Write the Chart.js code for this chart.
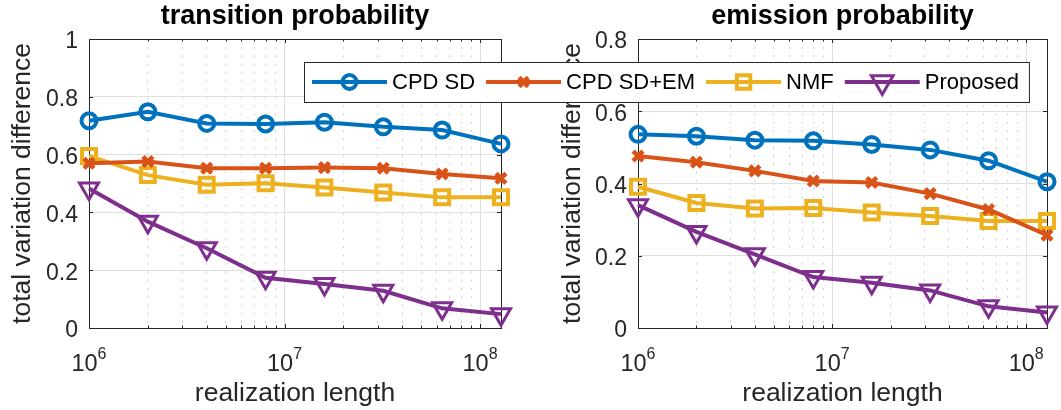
<!DOCTYPE html>
<html>
<head>
<meta charset="utf-8">
<script src="https://cdn.jsdelivr.net/npm/chart.js"></script>
<style>
  html, body { margin: 0; padding: 0; background: #fff; }
  #wrap { position: relative; width: 1061px; height: 410px; overflow: hidden; background: #fff; }
  #wrap canvas { position: absolute; left: 0; top: 0; }
</style>
</head>
<body>
<div id="wrap">
  <canvas id="c1" width="530" height="410"></canvas>
  <canvas id="c2" width="1061" height="410"></canvas>
</div>
<script>
// ---------------- data ----------------
const lengths = [1e6, 2e6, 4e6, 8e6, 1.6e7, 3.2e7, 6.4e7, 1.28e8];
const seriesNames = ['CPD SD', 'CPD SD+EM', 'NMF', 'Proposed'];

// transition probability
const transCpdSD   = [0.717, 0.748, 0.708, 0.706, 0.712, 0.696, 0.685, 0.637];
const transCpdEM   = [0.570, 0.576, 0.553, 0.553, 0.555, 0.553, 0.533, 0.518];
const transNMF     = [0.595, 0.529, 0.496, 0.501, 0.486, 0.469, 0.452, 0.452];
const transProp    = [0.483, 0.368, 0.276, 0.174, 0.152, 0.129, 0.068, 0.048];

// emission probability
const emisCpdSD    = [0.536, 0.531, 0.520, 0.518, 0.508, 0.493, 0.463, 0.405];
const emisCpdEM    = [0.476, 0.459, 0.435, 0.407, 0.403, 0.372, 0.328, 0.257];
const emisNMF      = [0.391, 0.346, 0.331, 0.332, 0.320, 0.310, 0.296, 0.296];
const emisProp     = [0.340, 0.266, 0.204, 0.141, 0.125, 0.104, 0.060, 0.043];

// ticks
const xMajorTicks  = [1e6, 1e7, 1e8];
const xTickBase    = '10';
const xTickExps    = ['6', '7', '8'];
const xMinorTicks  = [2e6, 3e6, 4e6, 5e6, 6e6, 7e6, 8e6, 9e6, 2e7, 3e7, 4e7, 5e7, 6e7, 7e7, 8e7, 9e7];

// ---------------- styles ----------------
const FONT = '"Liberation Sans", Arial, Helvetica, sans-serif';
const AXIS_COLOR = '#262626';
const GRID_COLOR = '#dfdfdf';
const MINOR_GRID_COLOR = '#c4c4c4';
const LINE_W = 4;
const styles = [
  { color: '#0072BD', pointStyle: 'circle',   radius: 7.5, pointBorderWidth: 4,   rotation: 0,   legendRadius: 7 },
  { color: '#D95319', pointStyle: 'crossRot', radius: 7,   pointBorderWidth: 4.5, rotation: 0,   legendRadius: 6.5 },
  { color: '#EDB120', pointStyle: 'rect',     radius: 9.9, pointBorderWidth: 4,   rotation: 0,   legendRadius: 9.5 },
  { color: '#7E2F8E', pointStyle: 'triangle', radius: 11,  pointBorderWidth: 3,   rotation: 180, legendRadius: 12.5 }
];

function makeDatasets(arrs) {
  return arrs.map((arr, i) => ({
    label: seriesNames[i],
    data: lengths.map((x, j) => ({ x: x, y: arr[j] })),
    borderColor: styles[i].color,
    backgroundColor: styles[i].color,
    borderWidth: LINE_W,
    pointStyle: styles[i].pointStyle,
    pointRadius: styles[i].radius,
    pointHoverRadius: styles[i].radius,
    pointBorderWidth: styles[i].pointBorderWidth,
    pointBorderColor: styles[i].color,
    pointBackgroundColor: 'rgba(0,0,0,0)',
    pointRotation: styles[i].rotation,
    tension: 0,
    clip: false
  }));
}

// box + inward ticks (MATLAB style) + superscript x tick labels
const boxPlugin = {
  id: 'boxPlugin',
  beforeDatasetsDraw(chart) {
    const { ctx, chartArea: a } = chart;
    const ys = chart.scales.y, xs = chart.scales.x;
    ctx.save();
    ctx.strokeStyle = AXIS_COLOR;
    ctx.lineWidth = 1;
    ctx.beginPath();
    ys.ticks.forEach(t => {
      const p = Math.round(ys.getPixelForValue(t.value)) + 0.5;
      ctx.moveTo(a.left, p); ctx.lineTo(a.left + 4, p);
      ctx.moveTo(a.right, p); ctx.lineTo(a.right - 4, p);
    });
    xMajorTicks.forEach(v => {
      const p = Math.round(xs.getPixelForValue(v)) + 0.5;
      ctx.moveTo(p, a.bottom); ctx.lineTo(p, a.bottom - 4);
      ctx.moveTo(p, a.top); ctx.lineTo(p, a.top + 4);
    });
    xMinorTicks.forEach(v => {
      const p = Math.round(xs.getPixelForValue(v)) + 0.5;
      ctx.moveTo(p, a.bottom); ctx.lineTo(p, a.bottom - 2.5);
      ctx.moveTo(p, a.top); ctx.lineTo(p, a.top + 2.5);
    });
    ctx.stroke();
    ctx.strokeRect(Math.round(a.left) + 0.5, Math.round(a.top) + 0.5,
                   Math.round(a.right - a.left), Math.round(a.bottom - a.top));
    ctx.restore();
  },
  afterDraw(chart) {
    const { ctx, chartArea: a } = chart;
    const xs = chart.scales.x;
    ctx.save();
    ctx.fillStyle = AXIS_COLOR;
    ctx.textAlign = 'left';
    ctx.textBaseline = 'alphabetic';
    xMajorTicks.forEach((v, i) => {
      const px = xs.getPixelForValue(v);
      ctx.font = '23.5px ' + FONT;
      const w1 = ctx.measureText(xTickBase).width;
      ctx.font = '16px ' + FONT;
      const w2 = ctx.measureText(xTickExps[i]).width;
      const start = px - (w1 + w2) / 2;
      ctx.font = '23.5px ' + FONT;
      ctx.fillText(xTickBase, start, a.bottom + 43);
      ctx.font = '16px ' + FONT;
      ctx.fillText(xTickExps[i], start + w1, a.bottom + 31);
    });
    ctx.restore();
  }
};

function drawMarker(ctx, st, x, y, r) {
  ctx.save();
  ctx.strokeStyle = st.color;
  ctx.lineWidth = st.pointBorderWidth;
  ctx.beginPath();
  if (st.pointStyle === 'circle') {
    ctx.arc(x, y, r, 0, Math.PI * 2);
  } else if (st.pointStyle === 'crossRot') {
    const d = r * Math.SQRT1_2;
    ctx.moveTo(x - d, y - d); ctx.lineTo(x + d, y + d);
    ctx.moveTo(x - d, y + d); ctx.lineTo(x + d, y - d);
  } else if (st.pointStyle === 'rect') {
    const s = r * Math.SQRT1_2;
    ctx.rect(x - s, y - s, 2 * s, 2 * s);
  } else if (st.pointStyle === 'triangle') {
    let rad = st.rotation * Math.PI / 180;
    ctx.moveTo(x + Math.sin(rad) * r, y - Math.cos(rad) * r);
    rad += 2 * Math.PI / 3;
    ctx.lineTo(x + Math.sin(rad) * r, y - Math.cos(rad) * r);
    rad += 2 * Math.PI / 3;
    ctx.lineTo(x + Math.sin(rad) * r, y - Math.cos(rad) * r);
    ctx.closePath();
  }
  ctx.stroke();
  ctx.restore();
}

// shared legend drawn over both panels
const legendPlugin = {
  id: 'sharedLegend',
  afterDraw(chart) {
    const ctx = chart.ctx;
    ctx.save();
    ctx.font = '22px ' + FONT;
    const left = 304, top = 62, h = 40;
    const lineY = 82, textY = 83;
    const lineLen = 75, gapText = 5, gapItem = 11;
    let total = 8;
    const widths = seriesNames.map(n => ctx.measureText(n).width);
    widths.forEach((w, i) => { total += lineLen + gapText + w + (i < widths.length - 1 ? gapItem : 0); });
    total += 10;
    ctx.fillStyle = '#ffffff';
    ctx.fillRect(left, top, total, h);
    ctx.strokeStyle = AXIS_COLOR;
    ctx.lineWidth = 1;
    ctx.strokeRect(left + 0.5, top + 0.5, total, h);
    let x = left + 8;
    seriesNames.forEach((n, i) => {
      const st = styles[i];
      ctx.strokeStyle = st.color;
      ctx.lineWidth = LINE_W;
      ctx.beginPath();
      ctx.moveTo(x, lineY); ctx.lineTo(x + lineLen, lineY);
      ctx.stroke();
      drawMarker(ctx, st, x + lineLen / 2, lineY, st.legendRadius);
      ctx.fillStyle = '#000000';
      ctx.textBaseline = 'middle';
      ctx.textAlign = 'left';
      ctx.fillText(n, x + lineLen + gapText, textY);
      x += lineLen + gapText + widths[i] + gapItem;
    });
    ctx.restore();
  }
};

function makeConfig(title, arrs, yMax, padLeft, padRight, yWidth, extraPlugins) {
  return {
    type: 'line',
    data: { datasets: makeDatasets(arrs) },
    options: {
      responsive: false,
      animation: false,
      events: [],
      layout: { padding: { left: padLeft, right: padRight, top: 0, bottom: 0 } },
      plugins: {
        legend: { display: false },
        tooltip: { enabled: false },
        title: {
          display: true,
          text: title,
          fullSize: false,
          color: '#000000',
          font: { family: FONT, size: 27, weight: 'bold', lineHeight: 1.2 },
          padding: { top: 0, bottom: 6.6 }
        }
      },
      scales: {
        x: {
          type: 'logarithmic',
          position: 'bottom',
          min: 1e6,
          max: 1.28e8,
          afterBuildTicks: s => { s.ticks = xMajorTicks.map(v => ({ value: v, major: true })); },
          afterFit: s => { s.height = 82; },
          ticks: { display: false },
          grid: { color: GRID_COLOR, lineWidth: 1, drawTicks: false },
          border: { display: false },
          title: {
            display: true,
            text: 'realization length',
            color: AXIS_COLOR,
            font: { family: FONT, size: 26.5, lineHeight: 1.2 },
            padding: { top: 0, bottom: 0 }
          }
        },
        x2: {
          type: 'logarithmic',
          position: 'top',
          min: 1e6,
          max: 1.28e8,
          afterBuildTicks: s => { s.ticks = xMinorTicks.map(v => ({ value: v })); },
          afterFit: s => { s.height = 0; },
          ticks: { display: false },
          grid: { color: MINOR_GRID_COLOR, lineWidth: 1, drawTicks: false },
          border: { display: false, dash: [1.5, 6.8] }
        },
        y: {
          type: 'linear',
          min: 0,
          max: yMax,
          afterFit: s => { s.width = yWidth; },
          ticks: {
            stepSize: 0.2,
            padding: 11,
            labelOffset: 3,
            color: AXIS_COLOR,
            font: { family: FONT, size: 23 },
            callback: v => String(Number(v.toFixed(2)))
          },
          grid: { color: GRID_COLOR, lineWidth: 1, drawTicks: false },
          border: { display: false },
          title: {
            display: true,
            text: 'total variation difference',
            color: AXIS_COLOR,
            font: { family: FONT, size: 26.5, lineHeight: 1.2 },
            padding: { top: 7, bottom: 0 }
          }
        }
      }
    },
    plugins: [boxPlugin].concat(extraPlugins)
  };
}

new Chart(document.getElementById('c1'),
  makeConfig('transition probability', [transCpdSD, transCpdEM, transNMF, transProp], 1, 0, 29, 89, []));
new Chart(document.getElementById('c2'),
  makeConfig('emission probability', [emisCpdSD, emisCpdEM, emisNMF, emisProp], 0.8, 549.4, 14, 88.6, [legendPlugin]));
</script>
</body>
</html>
